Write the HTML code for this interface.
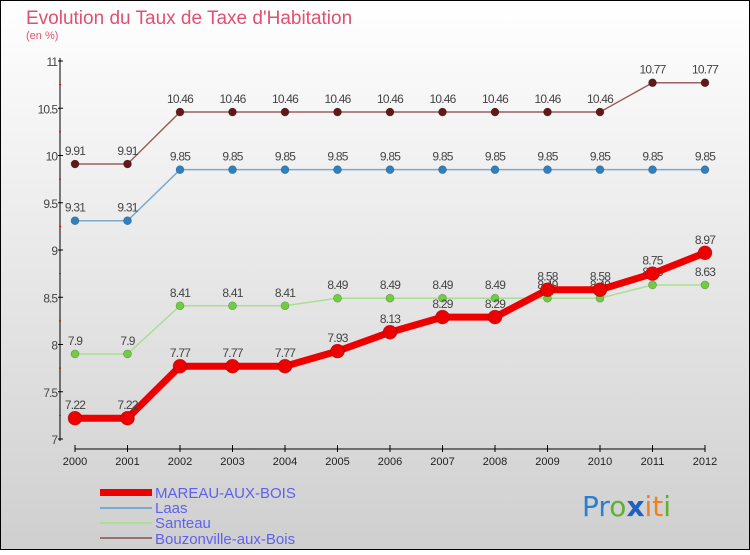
<!DOCTYPE html>
<html><head><meta charset="utf-8"><style>
body{margin:0;width:750px;height:550px;overflow:hidden;font-family:"Liberation Sans",sans-serif}
</style></head><body>
<svg id="c" width="750" height="550" xmlns="http://www.w3.org/2000/svg">
<defs><linearGradient id="bg" x1="0" y1="0" x2="0" y2="1"><stop offset="0" stop-color="#ffffff"/><stop offset="1" stop-color="#cfcfcf"/></linearGradient></defs>
<rect x="0.5" y="0.5" width="749" height="549" fill="url(#bg)" stroke="#000"/>
<text x="26" y="24" font-size="19" fill="#e05070">Evolution du Taux de Taxe d'Habitation</text>
<text x="26" y="39" font-size="11" fill="#e05070">(en %)</text>
<g id="axes"></g><g id="series"></g>
<g>
<rect x="100" y="489" width="52" height="7" fill="#ee0000"/>
<text x="155" y="498" font-size="15" fill="#6060ee">MAREAU-AUX-BOIS</text>
<line x1="100" y1="508" x2="152" y2="508" stroke="#7aaad0" stroke-width="2"/>
<text x="155" y="513" font-size="15" fill="#6060ee">Laas</text>
<line x1="100" y1="523" x2="152" y2="523" stroke="#a8e090" stroke-width="2"/>
<text x="155" y="528" font-size="15" fill="#6060ee">Santeau</text>
<line x1="100" y1="538" x2="152" y2="538" stroke="#9a7070" stroke-width="2"/>
<text x="155" y="544" font-size="15" fill="#6060ee">Bouzonville-aux-Bois</text>
</g>
<g font-size="28" font-family="'DejaVu Sans',sans-serif">
<text x="582" y="516"><tspan fill="#2a80d0">Pr</tspan><tspan fill="#60b030">o</tspan><tspan fill="#2060c0" font-weight="bold">x</tspan><tspan fill="#f08020">it</tspan><tspan fill="#60b030">i</tspan></text>
</g>
</svg>
<script>
const years=[2000,2001,2002,2003,2004,2005,2006,2007,2008,2009,2010,2011,2012];
const yTicks=[7,7.5,8,8.5,9,9.5,10,10.5,11];
const yTickLabels=["7","7.5","8","8.5","9","9.5","10","10.5","11"];
const bouzonville=[9.91,9.91,10.46,10.46,10.46,10.46,10.46,10.46,10.46,10.46,10.46,10.77,10.77];
const laas=[9.31,9.31,9.85,9.85,9.85,9.85,9.85,9.85,9.85,9.85,9.85,9.85,9.85];
const santeau=[7.9,7.9,8.41,8.41,8.41,8.49,8.49,8.49,8.49,8.49,8.49,8.63,8.63];
const mareau=[7.22,7.22,7.77,7.77,7.77,7.93,8.13,8.29,8.29,8.58,8.58,8.75,8.97];
const NS="http://www.w3.org/2000/svg";
const X=i=>75+i*52.5, Y=v=>439-(v-7)*94.5;
function mk(t,a,p){const e=document.createElementNS(NS,t);for(const k in a)e.setAttribute(k,a[k]);p.appendChild(e);return e;}
const ax=document.getElementById('axes'), sg=document.getElementById('series');
let e=mk('line',{x1:60,y1:58,x2:60,y2:441,stroke:'#000'},ax);


e=mk('line',{x1:75,y1:449,x2:705,y2:449,stroke:'#000'},ax);


yTicks.forEach((v,i)=>{
 mk('line',{x1:58,y1:Y(v),x2:63,y2:Y(v),stroke:'#000'},ax);
 if(i<yTicks.length-1)mk('line',{x1:59,y1:Y(v+0.25),x2:61,y2:Y(v+0.25),stroke:'#e00'},ax);
 const t=mk('text',{x:57,y:Y(v)+5,'font-size':12,'text-anchor':'end',fill:'#444','letter-spacing':'-1'},ax);
 t.textContent=yTickLabels[i];
 
 
});
years.forEach((y,i)=>{
 mk('line',{x1:X(i),y1:445,x2:X(i),y2:452,stroke:'#000'},ax);
 const t=mk('text',{x:X(i),y:465,'font-size':11,'text-anchor':'middle',fill:'#222'},ax);
 t.textContent=y;
 
 
});
function series(vals,name,lc,pc,lw,r){
 const g=mk('g',{},sg);
 
 
 mk('polyline',{points:vals.map((v,i)=>X(i)+','+Y(v)).join(' '),fill:'none',stroke:lc,'stroke-width':lw,'stroke-linejoin':'round'},g);
 vals.forEach((v,i)=>{
  const c=mk('circle',{cx:X(i),cy:Y(v),r:r,fill:pc,stroke:'rgba(0,0,0,0.3)','stroke-width':0.6},g);
  
  
  const t=mk('text',{x:X(i),y:Y(v)-9,'font-size':12,'text-anchor':'middle',fill:'#444','letter-spacing':'-0.8'},g);
  t.textContent=v;
  
  
 });
}
series(bouzonville,'bouzonville','#9a6060','#601818',1.5,4);
series(laas,'laas','#7aaad0','#3080c0',1.5,4);
series(santeau,'santeau','#a8e090','#70cc40',1.5,4);
series(mareau,'mareau','#ee0000','#ee0000',7,7);
</script>
</body></html>
